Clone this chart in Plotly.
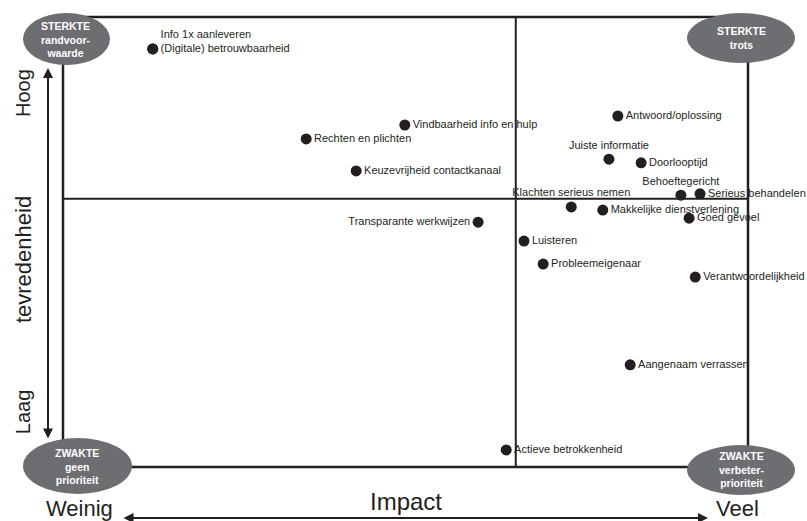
import plotly.graph_objects as go

# ---- data (impact 0-100, tevredenheid 0-100) ----
labels = [
    "(Digitale) betrouwbaarheid", "Info 1x aanleveren",
    "Vindbaarheid info en hulp", "Rechten en plichten",
    "Keuzevrijheid contactkanaal", "Transparante werkwijzen",
    "Antwoord/oplossing", "Juiste informatie", "Doorlooptijd",
    "Behoeftegericht", "Serieus behandelen", "Klachten serieus nemen",
    "Makkelijke dienstverlening", "Goed gevoel", "Luisteren",
    "Probleemeigenaar", "Verantwoordelijkheid", "Aangenaam verrassen",
    "Actieve betrokkenheid",
]
impact = [13.1, 13.1, 49.9, 35.5, 42.8, 60.6, 81.0, 79.7, 84.4, 90.2, 93.0,
          74.2, 78.8, 91.4, 67.3, 70.1, 92.3, 82.8, 64.7]
tevredenheid = [92.9, 92.9, 76.0, 72.9, 65.8, 54.4, 78.0, 68.4, 67.6, 60.4, 60.7,
                57.8, 57.1, 55.3, 50.2, 45.1, 42.2, 22.7, 3.8]
label_pos = ["middle right", "top right", "middle right", "middle right",
             "middle right", "middle left", "middle right", "top center",
             "middle right", "top center", "middle right", "top center",
             "middle right", "middle right", "middle right", "middle right",
             "middle right", "middle right", "middle right"]

impact_split = 66.1
tevredenheid_split = 59.6

quadrants = ["<b>STERKTE<br>randvoor-<br>waarde</b>", "<b>STERKTE<br>trots</b>",
             "<b>ZWAKTE<br>geen<br>prioriteit</b>", "<b>ZWAKTE<br>verbeter-<br>prioriteit</b>"]

INK = "#231f20"
GREY = "#6d6e71"
FONT = "Liberation Sans"

fig = go.Figure()
fig.add_trace(go.Scatter(
    x=impact, y=tevredenheid, mode="markers+text", text=labels,
    textposition=label_pos, cliponaxis=False,
    marker=dict(size=11, color=INK),
    textfont=dict(family=FONT, size=11, color=INK),
    hoverinfo="skip", showlegend=False,
))

lw = 2.5
shapes = [
    dict(type="rect", xref="paper", yref="paper", x0=0, x1=1, y0=0, y1=1,
         line=dict(color=INK, width=lw), layer="below"),
    dict(type="line", xref="x", yref="paper", x0=impact_split, x1=impact_split, y0=0, y1=1,
         line=dict(color=INK, width=2), layer="below"),
    dict(type="line", xref="paper", yref="y", x0=0, x1=1, y0=tevredenheid_split, y1=tevredenheid_split,
         line=dict(color=INK, width=2), layer="below"),
]
ell = [(-0.0584, 0.0686, 0.8933, 1.0089),
       (0.911, 1.0686, 0.8978, 1.0089),
       (-0.0584, 0.1007, -0.060, 0.0644),
       (0.911, 1.0686, -0.0622, 0.0489)]
for x0, x1, y0, y1 in ell:
    shapes.append(dict(type="circle", xref="paper", yref="paper", x0=x0, x1=x1, y0=y0, y1=y1,
                       fillcolor=GREY, line=dict(width=0), layer="above"))

annotations = []
for (x0, x1, y0, y1), t in zip(ell, quadrants):
    annotations.append(dict(xref="paper", yref="paper", x=(x0 + x1) / 2, y=(y0 + y1) / 2,
                            text=t, showarrow=False, font=dict(family=FONT, size=10.5, color="white"),
                            xanchor="center", yanchor="middle"))

big = dict(family=FONT, color=INK)
def title(x, y, text, size, angle=0):
    return dict(xref="paper", yref="paper", x=x, y=y, text=text, textangle=angle,
                showarrow=False, xanchor="center", yanchor="middle", font=dict(size=size, **big))

annotations += [
    title(-0.0584, 0.831, "Hoog", 20, -90),
    title(-0.0584, 0.462, "tevredenheid", 22, -90),
    title(-0.0584, 0.124, "Laag", 20, -90),
    title(0.0234, -0.0933, "Weinig", 22),
    title(0.5007, -0.0756, "Impact", 24),
    title(0.9854, -0.0933, "Veel", 22),
    dict(xref="x domain", yref="y domain", axref="x domain", ayref="y domain",
         x=-0.0219, y=0.8867, ax=-0.0219, ay=0.06, text="", showarrow=True,
         arrowhead=2, arrowside="end+start", arrowsize=1, arrowwidth=2, arrowcolor=INK),
    dict(xref="x domain", yref="y domain", axref="x domain", ayref="y domain",
         x=0.9416, y=-0.1133, ax=0.0861, ay=-0.1133, text="", showarrow=True,
         arrowhead=2, arrowside="end+start", arrowsize=1, arrowwidth=2, arrowcolor=INK),
]

fig.update_layout(
    width=807, height=521,
    margin=dict(l=63, r=59, t=17, b=54),
    paper_bgcolor="white", plot_bgcolor="white",
    xaxis=dict(range=[0, 100], visible=False, fixedrange=True),
    yaxis=dict(range=[0, 100], visible=False, fixedrange=True),
    shapes=shapes, annotations=annotations,
    font=dict(family=FONT),
)
fig.write_html("out.html", config={"displayModeBar": False},
               post_script="document.body.style.margin='0';document.body.style.overflow='hidden';")
